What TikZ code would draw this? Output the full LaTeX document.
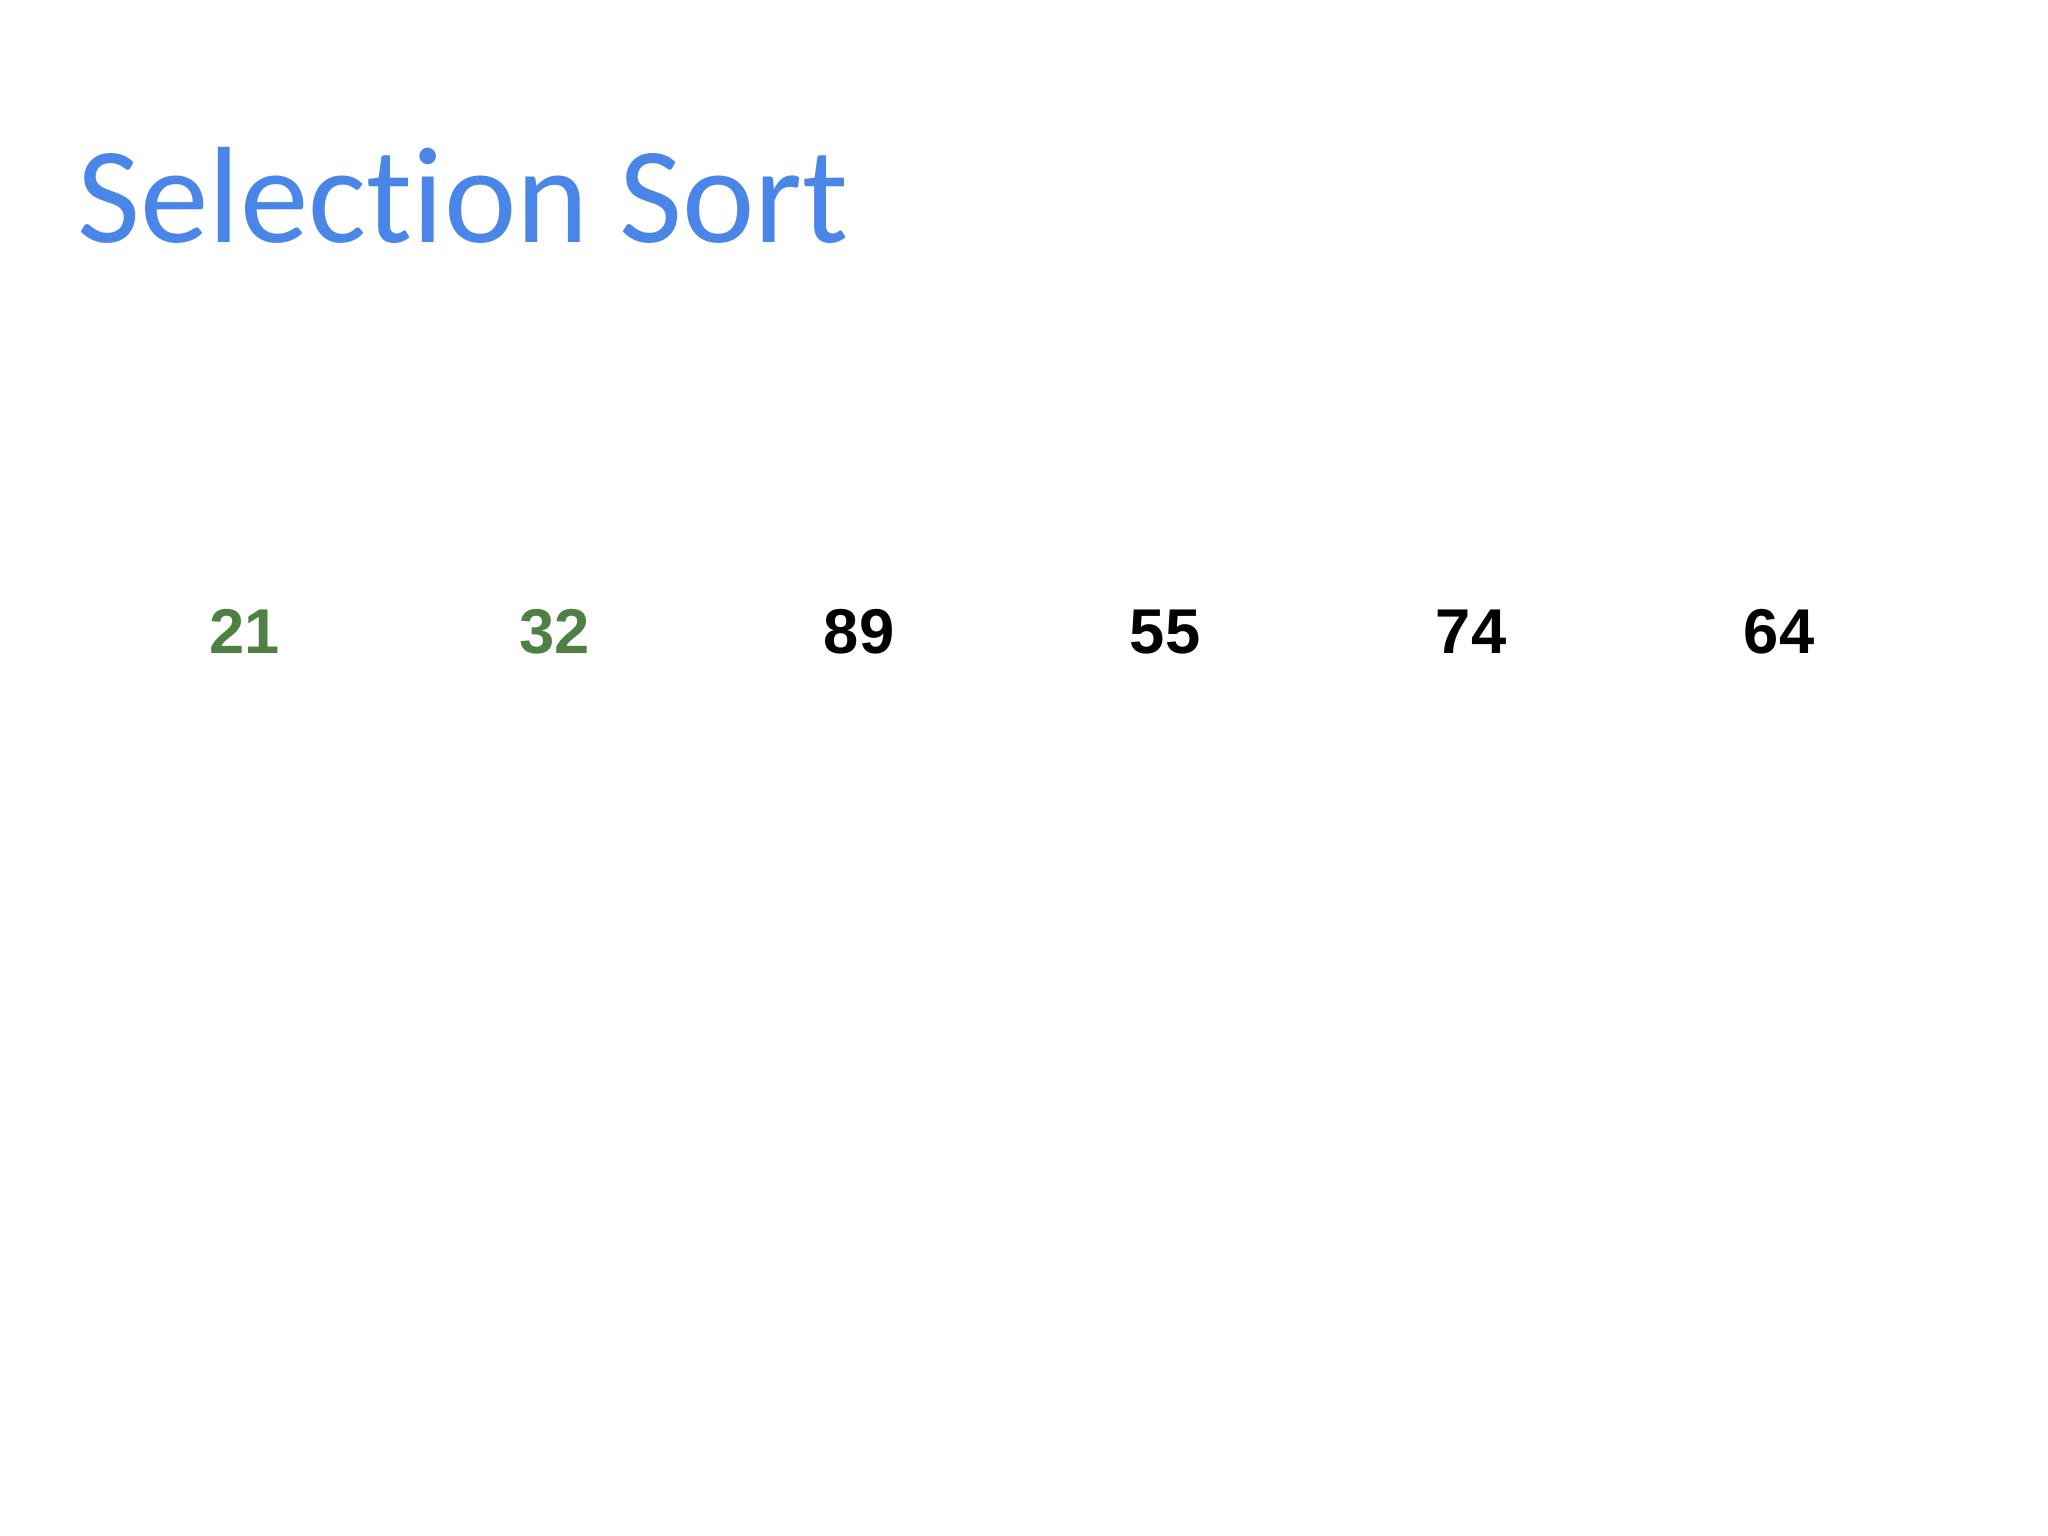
\documentclass[tikz,border=0pt]{standalone}
\usepackage{fontspec}
\setmainfont[Ligatures={NoCommon,NoRare}]{Carlito}
\newfontfamily\numfont{Liberation Sans}
\definecolor{titleblue}{HTML}{4A86E8}
\definecolor{sortedgreen}{HTML}{4E7F43}
\begin{document}
\begin{tikzpicture}[x=0.01cm,y=-0.01cm,
  titlestyle/.style={anchor=base west,inner sep=0pt,text=titleblue,font=\fontsize{39pt}{44pt}\selectfont},
  numstyle/.style={anchor=base,inner sep=0pt,font=\numfont\bfseries\fontsize{18pt}{20pt}\selectfont},
  sorted/.style={numstyle,text=sortedgreen},
  unsorted/.style={numstyle,text=black}]
\useasboundingbox (0,0) rectangle (2048,1536);
\fill[white] (0,0) rectangle (2048,1536);
\node[titlestyle] (title) at (77,242) {Selection Sort};
\node[sorted] (n1) at (245,653) {21};
\node[sorted] (n2) at (555,653) {32};
\node[unsorted] (n3) at (859,653) {89};
\node[unsorted] (n4) at (1165,653) {55};
\node[unsorted] (n5) at (1471,653) {74};
\node[unsorted] (n6) at (1779,653) {64};
\end{tikzpicture}
\end{document}
